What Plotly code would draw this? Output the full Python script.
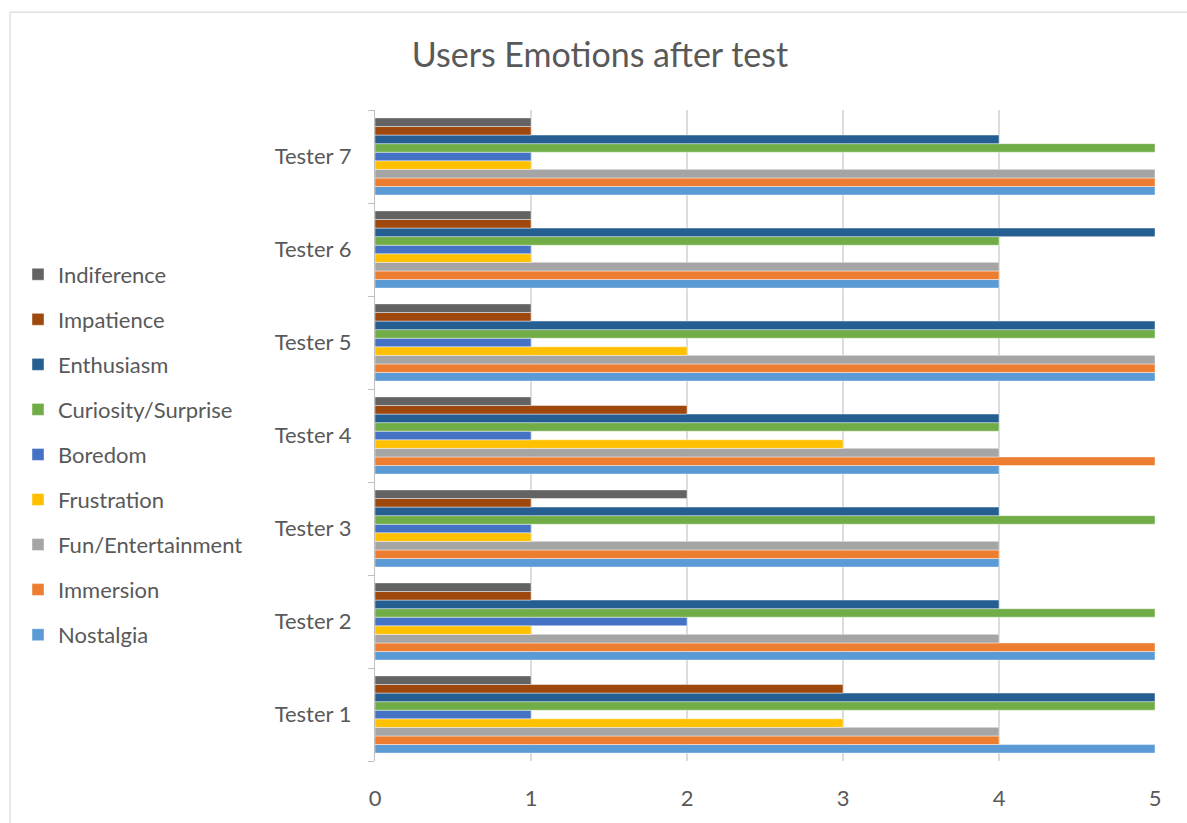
import plotly.graph_objects as go

testers = ["Tester 1", "Tester 2", "Tester 3", "Tester 4", "Tester 5", "Tester 6", "Tester 7"]

nostalgia = [5, 5, 4, 4, 5, 4, 5]
immersion = [4, 5, 4, 5, 5, 4, 5]
fun_entertainment = [4, 4, 4, 4, 5, 4, 5]
frustration = [3, 1, 1, 3, 2, 1, 1]
boredom = [1, 2, 1, 1, 1, 1, 1]
curiosity_surprise = [5, 5, 5, 4, 5, 4, 5]
enthusiasm = [5, 4, 4, 4, 5, 5, 4]
impatience = [3, 1, 1, 2, 1, 1, 1]
indiference = [1, 1, 2, 1, 1, 1, 1]

series = [
    ("Nostalgia", nostalgia, "#5B9BD5"),
    ("Immersion", immersion, "#ED7D31"),
    ("Fun/Entertainment", fun_entertainment, "#A5A5A5"),
    ("Frustration", frustration, "#FFC000"),
    ("Boredom", boredom, "#4472C4"),
    ("Curiosity/Surprise", curiosity_surprise, "#70AD47"),
    ("Enthusiasm", enthusiasm, "#255E91"),
    ("Impatience", impatience, "#9E480E"),
    ("Indiference", indiference, "#636363"),
]

FONT = "Lato"
TEXT = "#595959"

fig = go.Figure()
n = len(series)
for i, (name, vals, color) in enumerate(series):
    fig.add_trace(go.Bar(
        y=testers, x=vals, name=name, orientation="h",
        legendgroup=name, legendrank=n - i,
        marker=dict(color=color, line=dict(color="rgba(255,255,255,0.55)", width=0.8)),
    ))

W, H = 1187, 823
L, R, T, B = 375, 32, 110, 55
pw, ph = W - L - R, H - T - B

def px_x(p):
    return (p - L) / pw

def px_y(p):
    return (H - B - p) / ph

fig.update_layout(
    width=W, height=H,
    margin=dict(l=L, r=R, t=T, b=B),
    paper_bgcolor="white", plot_bgcolor="white",
    barmode="group", bargap=0.17, bargroupgap=0,
    font=dict(family=FONT, color=TEXT, size=22),
    title=dict(
        text="Users Emotions after test",
        x=600 / W, xanchor="center", xref="container",
        y=1 - 55 / H, yanchor="middle", yref="container",
        font=dict(family=FONT, size=34, color=TEXT),
    ),
    legend=dict(
        traceorder="grouped",
        x=px_x(18), xanchor="left",
        y=px_y(255), yanchor="top",
        font=dict(family=FONT, size=22, color=TEXT),
        tracegroupgap=13.45,
        bgcolor="rgba(0,0,0,0)",
    ),
    xaxis=dict(
        range=[0, 5], tickvals=[0, 1, 2, 3, 4, 5],
        showgrid=True, gridcolor="#DCDCDC", gridwidth=1.8,
        zeroline=False, showline=False, ticks="",
        ticklabelstandoff=22,
        tickfont=dict(family=FONT, size=22, color=TEXT),
        fixedrange=True,
    ),
    yaxis=dict(
        type="category", categoryorder="array", categoryarray=testers,
        showline=True, linecolor="#BFBFBF", linewidth=1.2,
        ticks="outside", ticklen=6, tickcolor="#BFBFBF", tickwidth=1.2,
        tickson="boundaries",
        ticklabelstandoff=18,
        showgrid=False, zeroline=False,
        tickfont=dict(family=FONT, size=22, color=TEXT),
    ),
    shapes=[dict(
        type="rect", xref="paper", yref="paper",
        x0=px_x(10), x1=px_x(1260), y0=px_y(920), y1=px_y(11),
        line=dict(color="#D9D9D9", width=1.2), fillcolor="rgba(0,0,0,0)",
        layer="below",
    )],
)

fig.write_html("out.html")
